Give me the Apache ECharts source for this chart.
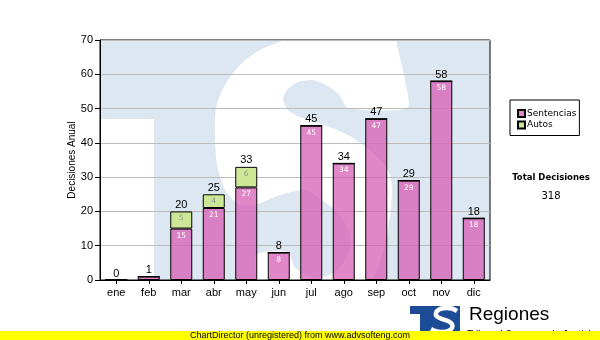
<!DOCTYPE html>
<html>
<head>
<meta charset="utf-8">
<script src="https://cdn.jsdelivr.net/npm/echarts@6/dist/echarts.min.js"></script>
<style>
  html, body { margin: 0; padding: 0; background: #fff; }
  #chart { width: 600px; height: 340px; }
</style>
</head>
<body>
<div id="chart"></div>
<script>
// Monthly decisions, split by type
const months = ['ene', 'feb', 'mar', 'abr', 'may', 'jun', 'jul', 'ago', 'sep', 'oct', 'nov', 'dic'];
const sentencias = [0, 1, 15, 21, 27, 8, 45, 34, 47, 29, 58, 18];
const autos = [0, 0, 5, 4, 6, 0, 0, 0, 0, 0, 0, 0];
const yMin = 0, yMax = 70, yStep = 10;

const totals = months.map((_, i) => sentencias[i] + autos[i]);
const grandTotal = totals.reduce((a, b) => a + b, 0);

// Plot rectangle in pixels
const G = { left: 100, top: 40, right: 110, bottom: 60 };
const W = 600, H = 340;
const plotX = G.left, plotY = G.top, plotW = W - G.left - G.right, plotH = H - G.top - G.bottom;

const ARIAL = '"Liberation Sans", Arial, sans-serif';
const VERDANA = '"DejaVu Sans", Verdana, sans-serif';

// Outline of the large white "S" in the emblem (pixel space; parts outside the
// plot fall on the white page and disappear)
const emblemS = [
  [392, 20], [398, 50], [405, 80], [407, 108], [348, 108],
  [340, 96], [328, 86], [312, 80], [298, 82], [287, 90], [283, 100], [288, 110], [300, 117], [322, 124],
  [348, 135], [372, 152], [388, 170], [392, 188], [390, 215], [385, 245], [375, 275], [360, 300], [340, 315],
  [300, 318], [270, 305], [258, 285], [256, 255],
  [288, 252], [295, 268], [315, 278], [335, 272], [348, 255], [350, 235], [340, 215], [322, 200], [305, 190],
  [280, 195], [255, 205], [240, 205], [225, 190], [217, 165], [215, 135], [216, 108], [225, 85], [240, 65],
  [260, 50], [285, 40], [320, 28], [360, 20]
];

// Small "S" stroke of the footer logo
const logoS = [
  [457, 311], [452, 308.5], [445, 308], [439, 309.5], [436, 313], [437, 316.5], [442, 319], [448, 321],
  [452, 324], [452, 328], [448, 331], [441, 332], [435, 331], [431, 329]
];

const chart = echarts.init(document.getElementById('chart'), null, { renderer: 'canvas' });

// Background emblem behind the plot: pale blue block with white cut-outs
const emblem = [
  { type: 'rect', z: -6, silent: true,
    shape: { x: plotX, y: plotY, width: plotW, height: plotH },
    style: { fill: '#dde7f1' } },
  { type: 'rect', z: -5, silent: true,
    shape: { x: plotX, y: 119, width: 54, height: plotY + plotH - 119 },
    style: { fill: '#ffffff' } },
  { type: 'polygon', z: -5, silent: true,
    shape: { points: emblemS, smooth: 0.25 },
    style: { fill: '#ffffff', stroke: null } }
];

// Footer logo and caption
const footer = [
  { type: 'rect', z: 5, silent: true,
    shape: { x: 410, y: 306, width: 50, height: 27 }, style: { fill: '#1c4c96' } },
  { type: 'rect', z: 6, silent: true,
    shape: { x: 410, y: 314, width: 10, height: 20 }, style: { fill: '#ffffff' } },
  { type: 'polyline', z: 6, silent: true,
    shape: { points: logoS, smooth: 0.3 },
    style: { fill: null, stroke: '#ffffff', lineWidth: 4.5, lineJoin: 'round' } },
  { type: 'text', z: 6, silent: true,
    style: { text: 'Regiones', x: 469, y: 315, font: '19px ' + ARIAL, fill: '#000', align: 'left', verticalAlign: 'middle' } },
  { type: 'text', z: 6, silent: true,
    style: { text: 'Tribunal Supremo de Justicia', x: 467, y: 335.5, font: '10px ' + ARIAL, fill: '#000', align: 'left', verticalAlign: 'middle' } },
  { type: 'rect', z: 10, silent: true,
    shape: { x: 0, y: 331, width: W, height: H - 331 }, style: { fill: '#ffff00' } },
  { type: 'text', z: 11, silent: true,
    style: { text: 'ChartDirector (unregistered) from www.advsofteng.com', x: 190, y: 336, font: '9px ' + ARIAL, fill: '#000', align: 'left', verticalAlign: 'middle' } }
];

// Axis title, grand total beside the legend
const captions = [
  { type: 'text', z: 6, silent: true, x: 72.5, y: plotY + plotH / 2, rotation: Math.PI / 2,
    style: { text: 'Decisiones Anual', font: '10px ' + ARIAL, fill: '#000', align: 'center', verticalAlign: 'middle' } },
  { type: 'text', z: 6, silent: true,
    style: { text: 'Total Decisiones', x: 551, y: 178, font: 'bold 8.5px ' + VERDANA, fill: '#000', align: 'center', verticalAlign: 'middle' } },
  { type: 'text', z: 6, silent: true,
    style: { text: String(grandTotal), x: 551, y: 196, font: '10px ' + VERDANA, fill: '#000', align: 'center', verticalAlign: 'middle' } }
];

const barStyle = { borderColor: '#000', borderWidth: 1 };

chart.setOption({
  animation: false,
  backgroundColor: '#fff',
  grid: {
    left: G.left, top: G.top, right: G.right, bottom: G.bottom,
    show: true, borderColor: '#000', borderWidth: 1, backgroundColor: 'transparent',
    containLabel: false, outerBoundsMode: 'none'
  },
  legend: {
    data: ['Sentencias', 'Autos'],
    orient: 'vertical', left: 510, top: 100,
    itemWidth: 7, itemHeight: 7, itemGap: 0.5,
    padding: [8, 3, 5, 7],
    borderColor: '#000', borderWidth: 1, borderRadius: 0, backgroundColor: '#fff',
    icon: 'rect', selectedMode: false,
    textStyle: { fontFamily: VERDANA, fontSize: 9, color: '#000', lineHeight: 11, padding: [0, 0, 0, -3] }
  },
  xAxis: {
    type: 'category', data: months,
    axisLine: { show: true, lineStyle: { color: '#000', width: 1 } },
    axisTick: { show: true, alignWithLabel: true, length: 4, lineStyle: { color: '#000' } },
    axisLabel: { color: '#000', fontFamily: ARIAL, fontSize: 11, margin: 7 },
    splitLine: { show: false }
  },
  yAxis: {
    type: 'value', min: yMin, max: yMax, interval: yStep,
    axisLine: { show: true, lineStyle: { color: '#000', width: 1 } },
    axisTick: { show: true, length: 5, lineStyle: { color: '#000' } },
    axisLabel: { color: '#000', fontFamily: ARIAL, fontSize: 11, margin: 7 },
    splitLine: { show: true, lineStyle: { color: '#bcbcbc', width: 1 } }
  },
  series: [
    {
      name: 'Sentencias', type: 'bar', stack: 'total', data: sentencias, barWidth: 22,
      itemStyle: Object.assign({ color: 'rgba(214, 92, 178, 0.74)' }, barStyle),
      label: {
        show: true, position: 'insideTop', distance: 3,
        color: '#fff', fontFamily: VERDANA, fontSize: 7.5,
        formatter: p => (p.value >= 2 ? String(p.value) : '')
      }
    },
    {
      name: 'Autos', type: 'bar', stack: 'total', data: autos, barWidth: 22,
      itemStyle: Object.assign({ color: '#cde796' }, barStyle),
      label: {
        show: true, position: 'insideTop', distance: 3,
        color: '#959595', fontFamily: VERDANA, fontSize: 7.5,
        formatter: p => (p.value > 0 ? String(p.value) : '')
      }
    },
    {
      // zero-height cap carrying the monthly total above each stack
      name: 'Total', type: 'bar', stack: 'total', data: months.map(() => 0), barWidth: 22,
      silent: true,
      itemStyle: { color: 'transparent', borderWidth: 0 },
      label: {
        show: true, position: 'top', distance: 1,
        color: '#000', fontFamily: ARIAL, fontSize: 11,
        formatter: p => String(totals[p.dataIndex])
      }
    }
  ],
  graphic: { elements: emblem.concat(footer, captions) }
});
</script>
</body>
</html>
